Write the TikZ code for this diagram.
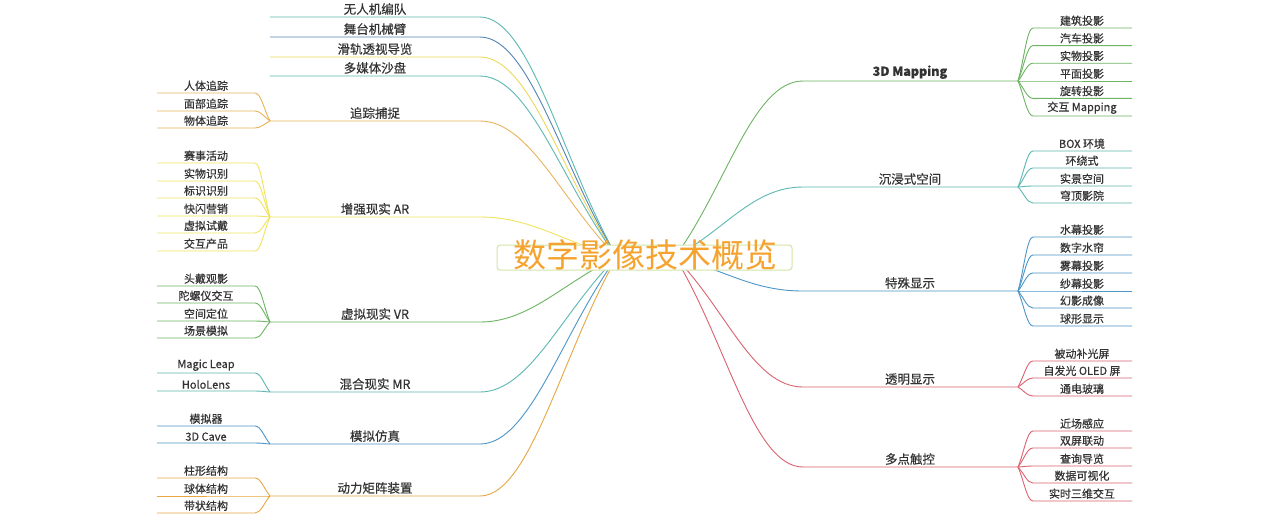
\documentclass[tikz,border=0pt]{standalone}
\usepackage{fontspec}
\setmainfont{Noto Sans CJK SC}
\newfontfamily\medfont{Noto Sans CJK SC}[FakeBold=0.4]
\usetikzlibrary{calc}
\definecolor{cteal}{HTML}{5CB8B2}
\definecolor{cslate}{HTML}{5483B4}
\definecolor{cblue}{HTML}{4C96C8}
\definecolor{cyellow}{HTML}{EDD85A}
\definecolor{cyellowb}{HTML}{F2E35C}
\definecolor{corange}{HTML}{E9B35C}
\definecolor{corangeb}{HTML}{E6A742}
\definecolor{cgreen}{HTML}{6DB563}
\definecolor{cred}{HTML}{D9636F}
\definecolor{txt}{HTML}{333333}
\definecolor{boxgreen}{HTML}{D2E5A8}
\definecolor{titleorange}{HTML}{F5A32E}
\tikzset{
  branch/.style={line width=0.9pt},
  mainlbl/.style={font=\medfont\fontsize{12.5}{14}\selectfont, text=txt, anchor=south, inner sep=0pt},
  leaflbl/.style={font=\medfont\fontsize{11}{13}\selectfont, text=txt, anchor=south, inner sep=0pt},
}
\newcommand\leftmain[4]{%
  \coordinate (#1s) at (270,#3);
  \coordinate (#1e) at (480,#3);
  \node[mainlbl] (#1) at (375,#3-2) {#4};
  \draw[branch,#2] (hubL) .. controls ($(hubL)!0.4!(#1e)$) and ($(#1e)+(50,0)$) .. (#1e) -- (#1s);
}
\newcommand\leftleaf[5]{%
  \coordinate (#2e) at (255,#4);
  \coordinate (#2s) at (157,#4);
  \node[leaflbl] (#2) at (206,#4-2) {#5};
  \draw[branch,#3] (#1s) .. controls ($(#1s)!0.4!(#2e)$) and ($(#2e)+(6,0)$) .. (#2e) -- (#2s);
}
\newcommand\rightmain[4]{%
  \coordinate (#1s) at (803,#3);
  \coordinate (#1e) at (1018,#3);
  \node[mainlbl] (#1) at (910,#3-2) {#4};
  \draw[branch,#2] (hubR) .. controls ($(hubR)!0.4!(#1s)$) and ($(#1s)+(-50,0)$) .. (#1s) -- (#1e);
}
\newcommand\rightleaf[5]{%
  \coordinate (#2s) at (1033,#4);
  \coordinate (#2e) at (1132,#4);
  \node[leaflbl] (#2) at (1082,#4-2) {#5};
  \draw[branch,#3] (#1e) .. controls ($(#1e)!0.4!(#2s)$) and ($(#2s)+(-6,0)$) .. (#2s) -- (#2e);
}
\begin{document}
\begin{tikzpicture}[x=1pt,y=-1pt]
\useasboundingbox[fill=white] (0,0) rectangle (1278,515);
\coordinate (hubL) at (617,257);
\coordinate (hubR) at (675,257);
% left side
\leftmain{la}{cteal}{17}{无人机编队}
\leftmain{lb}{cslate}{37}{舞台机械臂}
\leftmain{lc}{cyellow}{57}{滑轨透视导览}
\leftmain{ld}{cteal}{76}{多媒体沙盘}
\leftmain{le}{corange}{121}{追踪捕捉}
\leftleaf{le}{le1}{corange}{93}{人体追踪}
\leftleaf{le}{le2}{corange}{111}{面部追踪}
\leftleaf{le}{le3}{corange}{128}{物体追踪}
\leftmain{lf}{cyellowb}{217}{增强现实 AR}
\leftleaf{lf}{lf1}{cyellowb}{163}{赛事活动}
\leftleaf{lf}{lf2}{cyellowb}{181}{实物识别}
\leftleaf{lf}{lf3}{cyellowb}{198}{标识识别}
\leftleaf{lf}{lf4}{cyellowb}{216}{快闪营销}
\leftleaf{lf}{lf5}{cyellowb}{233}{虚拟试戴}
\leftleaf{lf}{lf6}{cyellowb}{251}{交互产品}
\leftmain{lg}{cgreen}{322}{虚拟现实 VR}
\leftleaf{lg}{lg1}{cgreen}{286}{头戴观影}
\leftleaf{lg}{lg2}{cgreen}{303}{陀螺仪交互}
\leftleaf{lg}{lg3}{cgreen}{321}{空间定位}
\leftleaf{lg}{lg4}{cgreen}{338}{场景模拟}
\leftmain{lh}{cteal}{392}{混合现实 MR}
\leftleaf{lh}{lh1}{cteal}{373}{Magic Leap}
\leftleaf{lh}{lh2}{cteal}{391}{HoloLens}
\leftmain{li}{cblue}{444}{模拟仿真}
\leftleaf{li}{li1}{cblue}{426}{模拟器}
\leftleaf{li}{li2}{cblue}{443}{3D Cave}
\leftmain{lj}{corangeb}{496}{动力矩阵装置}
\leftleaf{lj}{lj1}{corangeb}{478}{柱形结构}
\leftleaf{lj}{lj2}{corangeb}{496}{球体结构}
\leftleaf{lj}{lj3}{corangeb}{513}{带状结构}
% right side
\rightmain{ra}{cgreen}{81}{\bfseries 3D Mapping}
\rightleaf{ra}{ra1}{cgreen}{28}{建筑投影}
\rightleaf{ra}{ra2}{cgreen}{45.6}{汽车投影}
\rightleaf{ra}{ra3}{cgreen}{63.2}{实物投影}
\rightleaf{ra}{ra4}{cgreen}{81}{平面投影}
\rightleaf{ra}{ra5}{cgreen}{98.4}{旋转投影}
\rightleaf{ra}{ra6}{cgreen}{116}{交互 Mapping}
\rightmain{rb}{cteal}{187}{沉浸式空间}
\rightleaf{rb}{rb1}{cteal}{151}{BOX 环境}
\rightleaf{rb}{rb2}{cteal}{168}{环绕式}
\rightleaf{rb}{rb3}{cteal}{186}{实景空间}
\rightleaf{rb}{rb4}{cteal}{203}{穹顶影院}
\rightmain{rc}{cblue}{291}{特殊显示}
\rightleaf{rc}{rc1}{cblue}{237}{水幕投影}
\rightleaf{rc}{rc2}{cblue}{255}{数字水帘}
\rightleaf{rc}{rc3}{cblue}{273}{雾幕投影}
\rightleaf{rc}{rc4}{cblue}{291}{纱幕投影}
\rightleaf{rc}{rc5}{cblue}{308}{幻影成像}
\rightleaf{rc}{rc6}{cblue}{326}{球形显示}
\rightmain{rd}{cred}{387}{透明显示}
\rightleaf{rd}{rd1}{cred}{361}{被动补光屏}
\rightleaf{rd}{rd2}{cred}{378}{自发光 OLED 屏}
\rightleaf{rd}{rd3}{cred}{396}{通电玻璃}
\rightmain{re}{cred}{467}{多点触控}
\rightleaf{re}{re1}{cred}{431}{近场感应}
\rightleaf{re}{re2}{cred}{448}{双屏联动}
\rightleaf{re}{re3}{cred}{466}{查询导览}
\rightleaf{re}{re4}{cred}{483}{数据可视化}
\rightleaf{re}{re5}{cred}{501}{实时三维交互}
% central topic
\node[draw=boxgreen, fill=white, line width=1pt, rounded corners=3pt,
      minimum width=295pt, minimum height=25pt, inner sep=0pt] (titlebox) at (644.5,257.5) {};
\node[font=\fontsize{33}{36}\selectfont, text=titleorange, inner sep=0pt] (title) at (645,255) {数字影像技术概览};
\end{tikzpicture}
\end{document}
